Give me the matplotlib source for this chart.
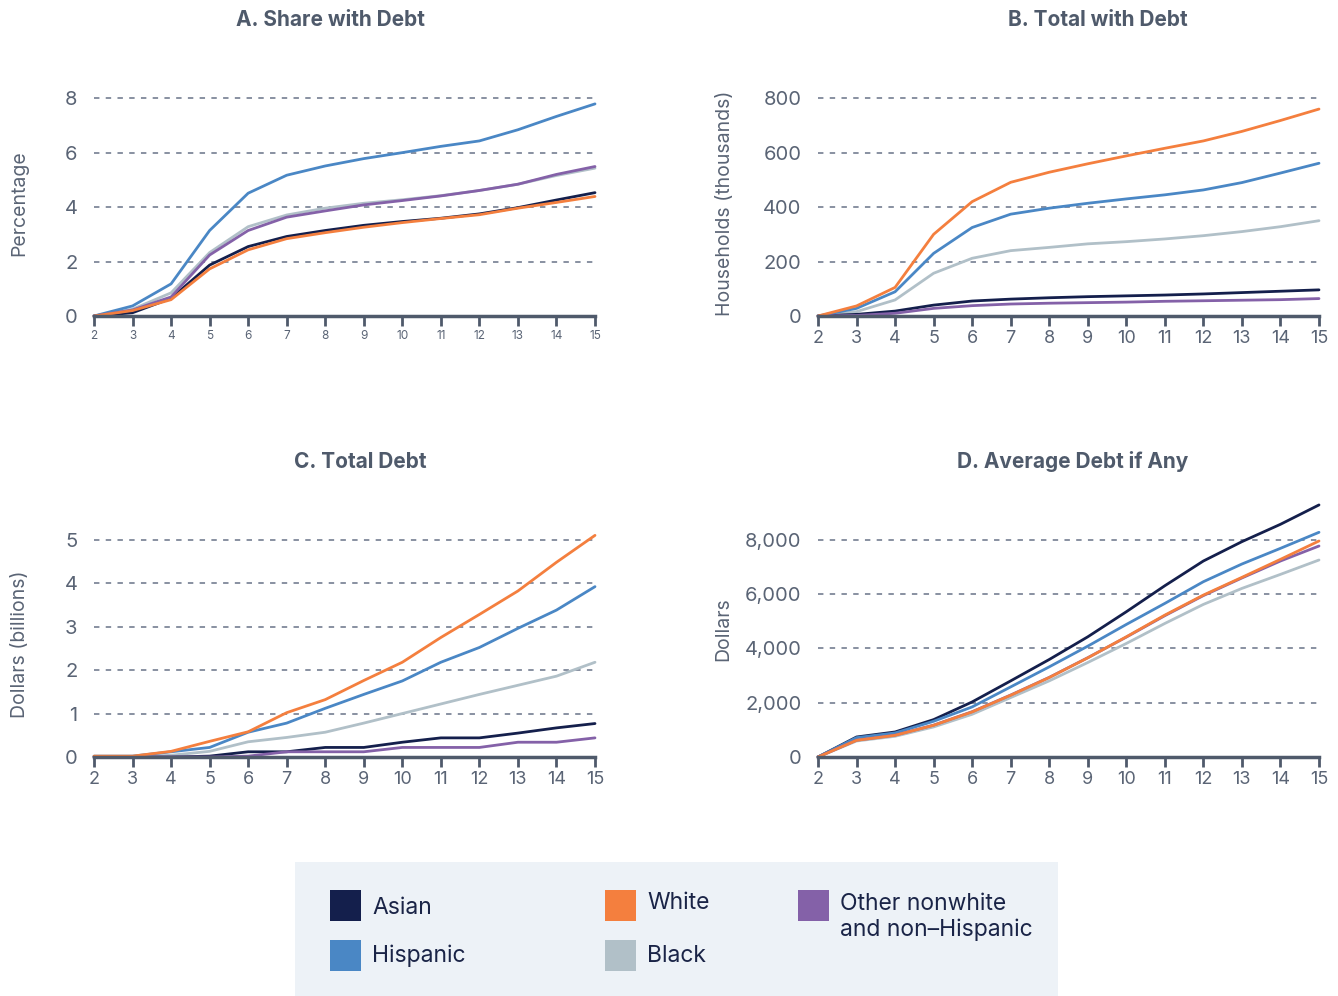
import numpy as np
import matplotlib.pyplot as plt
from matplotlib.patches import Rectangle

plt.rcParams['font.family'] = ['Inter', 'DejaVu Sans']

# Datos
x = np.arange(2, 16)

colores = {"Asian": "#141f4c", "Hispanic": "#4a87c5", "White": "#f47f3e",
           "Black": "#b1c0c8", "Other": "#8461a8"}

# A. Share with Debt (porcentaje)
share_asian = [0, 0.12, 0.65, 1.87, 2.55, 2.92, 3.14, 3.33, 3.47, 3.59, 3.75, 3.98, 4.26, 4.53]
share_hisp = [0, 0.37, 1.18, 3.14, 4.51, 5.17, 5.51, 5.78, 6.0, 6.23, 6.43, 6.84, 7.33, 7.79]
share_white = [0, 0.2, 0.6, 1.73, 2.43, 2.84, 3.06, 3.26, 3.43, 3.58, 3.72, 3.96, 4.17, 4.39]
share_black = [0, 0.25, 0.85, 2.33, 3.28, 3.71, 3.96, 4.14, 4.27, 4.42, 4.61, 4.84, 5.16, 5.43]
share_other = [0, 0.22, 0.7, 2.24, 3.14, 3.63, 3.86, 4.08, 4.24, 4.41, 4.61, 4.84, 5.2, 5.49]

# B. Total with Debt (miles de hogares)
total_asian = [0, 6, 18, 40, 55, 62, 67, 71, 74, 77, 81, 86, 91, 96]
total_hisp = [0, 28, 89, 230, 325, 374, 396, 414, 430, 445, 463, 490, 525, 561]
total_white = [0, 37, 105, 300, 420, 491, 528, 559, 588, 616, 643, 678, 718, 760]
total_black = [0, 16, 59, 157, 212, 240, 252, 265, 273, 283, 295, 310, 328, 350]
total_other = [0, 2, 10, 28, 38, 44, 47, 49, 51, 54, 56, 58, 60, 64]

# C. Total Debt (miles de millones)
debt_asian = [0, 0, 0, 0.02, 0.12, 0.12, 0.22, 0.22, 0.34, 0.44, 0.44, 0.55, 0.67, 0.77]
debt_hisp = [0.02, 0.02, 0.12, 0.22, 0.57, 0.78, 1.12, 1.44, 1.75, 2.18, 2.52, 2.96, 3.38, 3.92]
debt_white = [0.02, 0.02, 0.13, 0.36, 0.58, 1.02, 1.32, 1.76, 2.18, 2.75, 3.28, 3.82, 4.48, 5.1]
debt_black = [0, 0, 0.04, 0.13, 0.35, 0.45, 0.57, 0.78, 1.0, 1.22, 1.44, 1.65, 1.86, 2.18]
debt_other = [0, 0, 0, 0, 0.02, 0.12, 0.12, 0.12, 0.22, 0.22, 0.22, 0.34, 0.34, 0.44]

# D. Average Debt if Any (dólares)
avg_asian = [0, 738, 923, 1378, 2030, 2806, 3594, 4430, 5354, 6314, 7225, 7938, 8578, 9292]
avg_hisp = [0, 714, 886, 1317, 1846, 2584, 3323, 4086, 4886, 5662, 6462, 7114, 7692, 8283]
avg_white = [0, 615, 800, 1169, 1662, 2277, 2929, 3655, 4430, 5231, 5969, 6622, 7286, 7963]
avg_black = [0, 590, 763, 1108, 1575, 2191, 2806, 3483, 4185, 4923, 5625, 6215, 6732, 7262]
avg_other = [0, 620, 805, 1175, 1670, 2285, 2935, 3660, 4420, 5210, 5950, 6600, 7225, 7778]

W, H = 1338, 996
fig = plt.figure(figsize=(W / 100, H / 100), dpi=100)
fig.patch.set_facecolor("white")

gris_txt = "#5a6475"
gris_eje = "#4f5a6b"
gris_grid = "#7f889a"


def px_axes(x0, x1, y0, ytop):
    # de píxeles a fracciones de figura
    return [x0 / W, 1 - y0 / H, (x1 - x0) / W, (y0 - ytop) / H]


def panel(rect, series, ymax, yticks, yticklabels, ylabel, xtick_size):
    ax = fig.add_axes(rect)
    for s, key in series:
        ax.plot(x, s, color=colores[key], lw=2.0, clip_on=False, solid_capstyle="round")
    ax.set_xlim(2, 15)
    ax.set_ylim(0, ymax)
    for yt in yticks[1:]:
        ax.axhline(yt, color=gris_grid, lw=1.3, ls=(0, (3, 3.5)), zorder=0)
    ax.set_yticks(yticks)
    ax.set_yticklabels(yticklabels)
    ax.set_xticks(x)
    for sp in ["left", "right", "top"]:
        ax.spines[sp].set_visible(False)
    ax.spines["bottom"].set_color(gris_eje)
    ax.spines["bottom"].set_linewidth(2.5)
    ax.tick_params(axis="y", length=0, pad=12, labelsize=14.5, labelcolor=gris_txt)
    ax.tick_params(axis="x", length=7, width=2, color=gris_eje, pad=3,
                   labelsize=xtick_size, labelcolor=gris_txt)
    ax.set_ylabel(ylabel, fontsize=14, color=gris_txt, labelpad=8)
    return ax


def orden(a, h, w, b, o):
    return [(b, "Black"), (a, "Asian"), (h, "Hispanic"), (o, "Other"), (w, "White")]


axA = panel(px_axes(94, 595, 316, 90),
            orden(share_asian, share_hisp, share_white, share_black, share_other),
            8.3, [0, 2, 4, 6, 8], ["0", "2", "4", "6", "8"], "Percentage", 8.5)
axA.yaxis.set_label_coords(-0.132, 0.5)

axB = panel(px_axes(818, 1319, 316, 90),
            orden(total_asian, total_hisp, total_white, total_black, total_other),
            830, [0, 200, 400, 600, 800], ["0", "200", "400", "600", "800"],
            "Households (thousands)", 13)
axB.yaxis.set_label_coords(-0.168, 0.5)

axC = panel(px_axes(94, 595, 757, 531),
            orden(debt_asian, debt_hisp, debt_white, debt_black, debt_other),
            5.2, [0, 1, 2, 3, 4, 5], ["0", "1", "2", "3", "4", "5"],
            "Dollars (billions)", 13)
axC.yaxis.set_label_coords(-0.129, 0.5)

axD = panel(px_axes(818, 1319, 757, 502),
            orden(avg_asian, avg_hisp, avg_white, avg_black, avg_other),
            9400, [0, 2000, 4000, 6000, 8000], ["0", "2,000", "4,000", "6,000", "8,000"],
            "Dollars", 13)
axD.yaxis.set_label_coords(-0.172, 0.5)

# Títulos
tit_kw = dict(fontsize=15, fontweight="bold", color="#4f5a6b", ha="center", va="center")
fig.text(330 / W, 1 - 20 / H, "A. Share with Debt", **tit_kw)
fig.text(1098 / W, 1 - 20 / H, "B. Total with Debt", **tit_kw)
fig.text(360 / W, 1 - 462 / H, "C. Total Debt", **tit_kw)
fig.text(1073 / W, 1 - 462 / H, "D. Average Debt if Any", **tit_kw)

# Leyenda manual
fig.patches.append(Rectangle((295 / W, 0), (1058 - 295) / W, (996 - 862) / H,
                             transform=fig.transFigure, facecolor="#edf2f7",
                             edgecolor="none", zorder=0))
ley = [("Asian", "Asian", 330, 890, 908),
       ("White", "White", 605, 890, 903),
       ("Other", "Other nonwhite\nand non\u2013Hispanic", 798, 890, 917),
       ("Hispanic", "Hispanic", 330, 940, 956),
       ("Black", "Black", 605, 940, 956)]
for key, txt, px, py, ty in ley:
    fig.patches.append(Rectangle((px / W, 1 - (py + 31) / H), 31 / W, 31 / H,
                                 transform=fig.transFigure, facecolor=colores[key],
                                 edgecolor="none", zorder=1))
    fig.text((px + 42) / W, 1 - ty / H, txt, fontsize=16.5, color="#1a2447",
             va="center", ha="left", linespacing=1.25)

fig.savefig("out.png", dpi=100)
